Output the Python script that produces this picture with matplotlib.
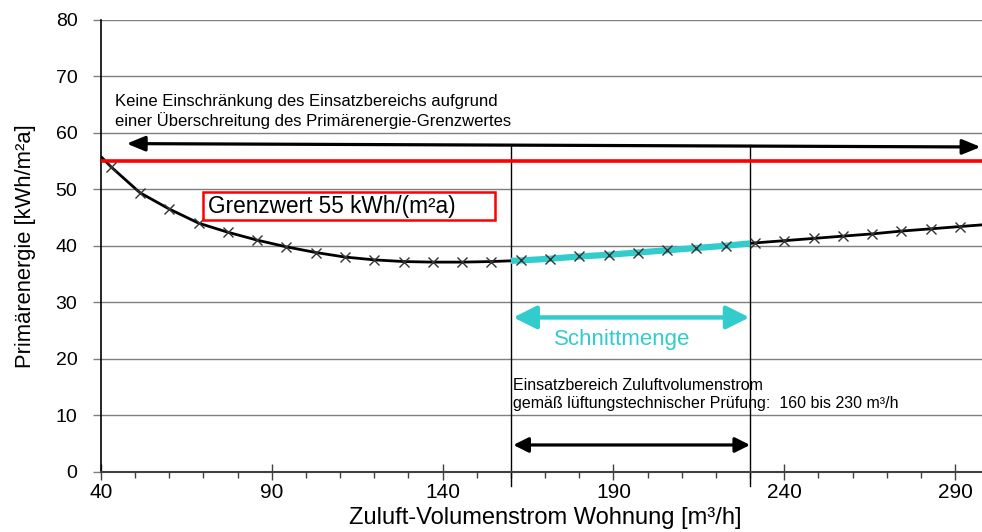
import numpy as np
import matplotlib
matplotlib.use("Agg")
import matplotlib.pyplot as plt
from matplotlib.patches import Rectangle, FancyArrowPatch

plt.rcParams['font.family'] = ['Liberation Sans', 'DejaVu Sans']

# ---- data ----
volume = [42.9, 51.4, 60.0, 68.6, 77.1, 85.7, 94.3, 102.9, 111.4, 120.0,
          128.6, 137.1, 145.7, 154.3, 162.9, 171.4, 180.0, 188.6, 197.1, 205.7,
          214.3, 222.9, 231.4, 240.0, 248.6, 257.1, 265.7, 274.3, 282.9, 291.4]
energy = [54.0, 49.4, 46.5, 44.0, 42.4, 41.0, 39.8, 38.8, 38.0, 37.5,
          37.2, 37.1, 37.1, 37.2, 37.4, 37.7, 38.1, 38.4, 38.8, 39.2,
          39.6, 40.0, 40.5, 40.9, 41.3, 41.7, 42.1, 42.6, 43.0, 43.4]
curve_start = (40.0, 55.8)
curve_end = (300.0, 43.8)
grenzwert = 55
range_lo, range_hi = 160, 230

x_ticks = [40, 90, 140, 190, 240, 290]
y_ticks = [0, 10, 20, 30, 40, 50, 60, 70, 80]

cyan = '#33CCCC'

fig = plt.figure(figsize=(9.82, 5.32), dpi=100)
ax = fig.add_axes([101/982, 60.5/532, 888.2/982, 451.5/532])
ax.set_xlim(40, 300)
ax.set_ylim(0, 80)

# grid
for yv in y_ticks[1:]:
    ax.axhline(yv, color='#7f7f7f', lw=1.0, zorder=0)

# curve
cx = [curve_start[0]] + volume + [curve_end[0]]
cy = [curve_start[1]] + energy + [curve_end[1]]
ax.plot(cx, cy, color='black', lw=2.0, zorder=3, solid_capstyle='butt')

# cyan intersection segment
vx = np.array(cx)
vy = np.array(cy)
mask = (vx > range_lo) & (vx < range_hi)
sx = np.concatenate([[range_lo], vx[mask], [range_hi]])
sy = np.concatenate([[np.interp(range_lo, vx, vy)], vy[mask], [np.interp(range_hi, vx, vy)]])
ax.plot(sx, sy, color=cyan, lw=4.5, zorder=4, solid_capstyle='butt')

# markers
ax.plot(volume, energy, ls='none', marker='x', ms=7, mew=1.0, color='#333333', zorder=5)

# red limit line
ax.axhline(grenzwert, color='#FF0000', lw=2.6, zorder=4)

# vertical range lines
for xv in (range_lo, range_hi):
    ax.plot([xv, xv], [-2.5, 57.8], color='black', lw=1.0, zorder=2, clip_on=False)

def darrow(x0, y0, x1, y1, color, lw, hl, hw):
    a = FancyArrowPatch((x0, y0), (x1, y1),
                        arrowstyle=f'<|-|>,head_length={hl},head_width={hw}',
                        color=color, lw=lw, shrinkA=0, shrinkB=0,
                        mutation_scale=1, zorder=6, clip_on=False)
    ax.add_patch(a)

darrow(47.5, 58.1, 297.5, 57.5, 'black', 2.3, 11, 4.5)
darrow(160.7, 27.3, 229.8, 27.3, cyan, 3.2, 14, 7)
darrow(160.7, 4.7, 230.0, 4.7, 'black', 2.3, 9, 4.5)

# texts
ax.text(44.1, 65.6, 'Keine Einschränkung des Einsatzbereichs aufgrund',
        fontsize=12, ha='left', va='center', zorder=7)
ax.text(44.1, 62.1, 'einer Überschreitung des Primärenergie-Grenzwertes',
        fontsize=12, ha='left', va='center', zorder=7)

ax.add_patch(Rectangle((69.9, 44.65), 85.4, 4.95, fill=False, edgecolor='#FF0000',
                       lw=1.8, zorder=7))
ax.text(71.4, 46.9, 'Grenzwert 55 kWh/(m²a)', fontsize=16.3, ha='left',
        va='center', zorder=8)

ax.text(192.5, 23.4, 'Schnittmenge', fontsize=16, color=cyan,
        ha='center', va='center', zorder=7)

ax.text(160.6, 15.3, 'Einsatzbereich Zuluftvolumenstrom',
        fontsize=11.5, ha='left', va='center', zorder=7)
ax.text(160.6, 12.1, 'gemäß lüftungstechnischer Prüfung:  160 bis 230 m³/h',
        fontsize=11.5, ha='left', va='center', zorder=7)

# axes styling
for s in ('top', 'right'):
    ax.spines[s].set_visible(False)
ax.spines['left'].set_color('black')
ax.spines['left'].set_linewidth(1.2)
ax.spines['bottom'].set_color('#404040')
ax.spines['bottom'].set_linewidth(1.5)

ax.set_xticks(x_ticks)
ax.set_xticks(np.arange(40, 301, 10), minor=True)
ax.set_yticks(y_ticks)
ax.tick_params(axis='x', which='major', direction='inout', length=12, width=1.0,
               color='#404040', labelsize=15, pad=2)
ax.tick_params(axis='x', which='minor', direction='out', length=4, width=1.0,
               color='#404040')
ax.tick_params(axis='y', which='major', direction='out', length=6, width=1.0,
               color='#7f7f7f', labelsize=14, pad=11)

ax.set_xlabel('Zuluft-Volumenstrom Wohnung [m³/h]', fontsize=17, labelpad=4)
ax.set_ylabel('Primärenergie [kWh/m²a]', fontsize=15.8, labelpad=14)

fig.savefig('out.png', dpi=100)
